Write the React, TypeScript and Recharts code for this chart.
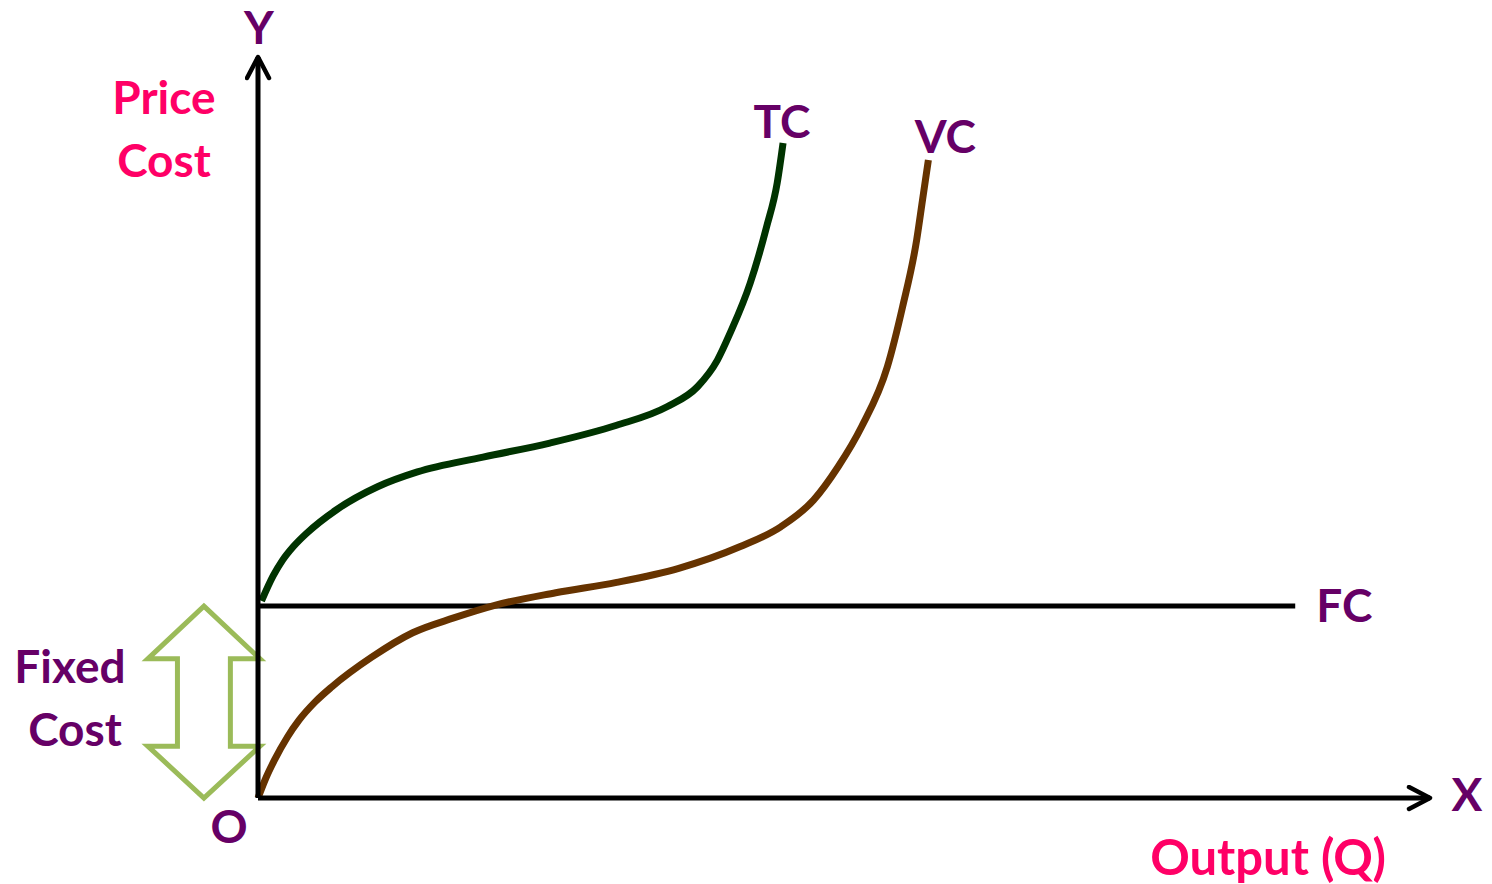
import React from 'react'
import { LineChart, Line, XAxis, YAxis, ReferenceArea } from 'recharts'

// cost curves (output 0-100, cost 0-100)
const tcOutput = [0.3, 1.3, 2.1, 3.0, 4.2, 6.7, 10.2, 13.6, 19.2, 24.9, 30.6, 34.9, 37.5, 39.2, 40.3, 42.0, 43.4, 44.3, 44.8]
const tcCost = [26.6, 30.0, 32.1, 33.9, 35.8, 38.9, 42.0, 44.0, 46.0, 47.9, 50.3, 52.8, 55.5, 59.1, 62.8, 69.5, 77.1, 83.0, 88.4]
const vcOutput = [0, 0.7, 1.4, 2.5, 3.5, 4.9, 6.3, 9.7, 13.2, 16.7, 20.2, 25.4, 30.6, 35.9, 41.1, 44.6, 47.4, 49.5, 51.5, 53.7, 55.0, 56.2, 56.7, 57.2]
const vcCost = [0, 2.8, 5.1, 8.2, 10.5, 13.0, 15.0, 19.0, 22.3, 24.3, 26.0, 27.7, 29.1, 31.0, 33.9, 36.6, 40.2, 44.7, 50.1, 58.2, 66.3, 75.3, 80.7, 86.1]
const fcOutput = [0, 88.5]
const fixedCost = 25.9
// where the "fixed cost" bracket sits, left of the y axis
const bracketOutput = [-9.4, 0.17]

const tcData = tcOutput.map((q, i) => ({ q, c: tcCost[i] }))
const vcData = vcOutput.map((q, i) => ({ q, c: vcCost[i] }))
const fcData = fcOutput.map((q) => ({ q, c: fixedCost }))

const FONT = 'Lato, "Open Sans", sans-serif'
const PINK = '#ff0066'
const PURPLE = '#660066'

const W = 1492
const H = 884

const DoubleArrow = (props: any) => {
  const { x, y, width: w, height: h } = props
  const pts = [
    [0.5, 0], [1, 0.275], [0.736, 0.275], [0.736, 0.73], [1, 0.73],
    [0.5, 1], [0, 0.73], [0.264, 0.73], [0.264, 0.275], [0, 0.275],
  ]
  return (
    <polygon
      points={pts.map(([a, b]) => `${x + a * w},${y + b * h}`).join(' ')}
      fill="none"
      stroke="#9bbb59"
      strokeWidth={5}
    />
  )
}

const endLabel = (text: string, n: number, dx: number, dy: number, anchor: 'start' | 'middle') => (p: any) => {
  if (p.index !== n - 1) return <g />
  const px = p.x ?? p.viewBox?.x
  const py = p.y ?? p.viewBox?.y
  return (
    <text x={px + dx} y={py + dy} textAnchor={anchor} fill={PURPLE}
      style={{ fontFamily: FONT, fontWeight: 700, fontSize: 46 }}>
      {text}
    </text>
  )
}

const txt = (s: string, x: number, y: number, color: string, size = 46) => (
  <text x={x} y={y} textAnchor="middle" fill={color}
    style={{ fontFamily: FONT, fontWeight: 700, fontSize: size }}>
    {s}
  </text>
)

export default function App() {
  return (
    <div style={{ position: 'absolute', left: 0, top: 0, width: W, height: H, background: '#fff' }}>
      <LineChart width={W} height={H} margin={{ top: 57, left: 257, right: 62, bottom: 85 }}>
        <defs>
          <marker id="axisArrow" markerWidth={30} markerHeight={30} refX={24} refY={13}
            orient="auto-start-reverse" markerUnits="userSpaceOnUse">
            <path d="M3,2 L24,13 L3,24" fill="none" stroke="#000" strokeWidth={4.5}
              strokeLinecap="round" strokeLinejoin="round" />
          </marker>
        </defs>
        <XAxis type="number" dataKey="q" domain={[0, 100]} tick={false} tickLine={false} height={1}
          axisLine={{ stroke: '#000', strokeWidth: 5, markerEnd: 'url(#axisArrow)' }} />
        <YAxis type="number" dataKey="c" domain={[0, 100]} tick={false} tickLine={false} width={1}
          axisLine={{ stroke: '#000', strokeWidth: 5, markerStart: 'url(#axisArrow)' }} />
        <ReferenceArea x1={bracketOutput[0]} x2={bracketOutput[1]} y1={0} y2={fixedCost}
          ifOverflow="visible" shape={<DoubleArrow />} />
        <Line data={fcData} dataKey="c" type="linear" stroke="#000" strokeWidth={5} dot={false}
          isAnimationActive={false} label={endLabel('FC', fcData.length, 21, 16, 'start')} />
        <Line data={vcData} dataKey="c" type="monotone" stroke="#663300" strokeWidth={7} dot={false}
          isAnimationActive={false} label={endLabel('VC', vcData.length, 17, -7, 'middle')} />
        <Line data={tcData} dataKey="c" type="monotone" stroke="#003300" strokeWidth={7} dot={false}
          isAnimationActive={false} label={endLabel('TC', tcData.length, -1, -5, 'middle')} />
      </LineChart>
      <svg width={W} height={H} style={{ position: 'absolute', left: 0, top: 0, pointerEvents: 'none' }}>
        {txt('Y', 259, 44, PURPLE, 46)}
        {txt('Price', 164, 114, PINK, 46)}
        {txt('Cost', 164, 177, PINK, 46)}
        {txt('Fixed', 70, 683, PURPLE)}
        {txt('Cost', 75, 746, PURPLE)}
        {txt('O', 229, 843, PURPLE)}
        {txt('X', 1467, 811, PURPLE)}
        {txt('Output (Q)', 1268, 875, PINK, 49)}
      </svg>
    </div>
  )
}
